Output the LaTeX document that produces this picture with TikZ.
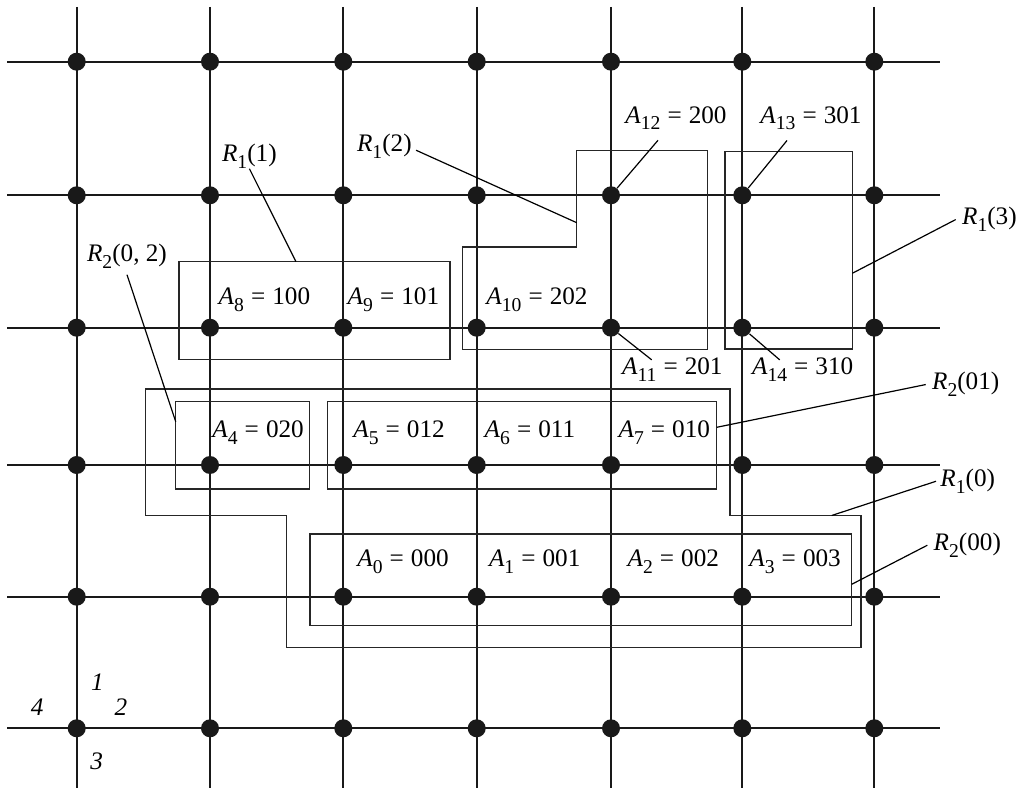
\documentclass[tikz,border=0pt]{standalone}
\usepackage{fontspec}
\setmainfont{Liberation Serif}

\newcommand{\lowidx}[1]{\raisebox{-3.3pt}{\fontsize{9.8}{10}\selectfont #1}}
\newcommand{\aval}[2]{\textit{A}\lowidx{#1}\kern0.28em=\kern0.28em#2}
\newcommand{\rset}[2]{\textit{R}\lowidx{#1}(#2)}

\tikzset{
  gridline/.style={line width=1.1pt, black!90},
  knot/.style={circle, fill=black!90, inner sep=0pt, minimum size=9pt},
  region/.style={line width=0.6pt, black!85},
  leader/.style={line width=0.6pt},
  lbl/.style={anchor=base west, inner sep=0pt, font=\fontsize{12.6}{15}\selectfont},
  num/.style={inner sep=0pt, font=\fontsize{12.6}{15}\selectfont\itshape},
}

\begin{document}
\begin{tikzpicture}[x=0.5pt, y=-0.5pt]
        \useasboundingbox (0,0) rectangle (1021,790);
        \def\cols{76.7,210,343.3,476.7,611,742.3,874.3}
        \def\rows{61.7,195.3,327.7,465,596.7,728.3}

        % Grid
        \foreach \x in \cols
          \draw[gridline] (\x,7) -- (\x,788);
        \foreach \y in \rows
          \draw[gridline] (7,\y) -- (940,\y);
        \foreach \x [count=\i] in \cols {
          \foreach \y [count=\j] in \rows
            \node[knot] (k\i\j) at (\x,\y) {};
        }

        % Regions
        \draw[region] (179,261.7) rectangle (450,359.3);
        \draw[region] (576.7,150.7) -- (707.7,150.7) -- (707.7,349.3) -- (462.7,349.3)
          -- (462.7,247) -- (576.7,247) -- cycle;
        \draw[region] (725,151.3) rectangle (852.3,349);
        \draw[region] (175.7,401.7) rectangle (309.3,489);
        \draw[region] (327.3,401.7) rectangle (716.7,489);
        \draw[region] (145.7,389) -- (730,389) -- (730,515.5) -- (861,515.5) -- (861,647.7)
          -- (286.7,647.7) -- (286.7,515.5) -- (145.7,515.5) -- cycle;
        \draw[region] (310,534) rectangle (851.7,625.7);

        \coordinate (e11) at (296,261.7);
        \coordinate (e12) at (576.7,222.7);
        \coordinate (e13) at (852.3,273.3);
        \coordinate (e02) at (175.7,421.7);
        \coordinate (e01) at (716.7,427.3);
        \coordinate (e10) at (831.7,515.5);
        \coordinate (e00) at (851.7,584.3);

        % Vertex labels
        \node[lbl] (a0) at (356.9,566.4) {\aval{0}{000}};
        \node[lbl] (a1) at (488.6,566.4) {\aval{1}{001}};
        \node[lbl] (a2) at (627.2,566.4) {\aval{2}{002}};
        \node[lbl] (a3) at (749,566.4) {\aval{3}{003}};
        \node[lbl] (a4) at (212,437.5) {\aval{4}{020}};
        \node[lbl] (a5) at (352.9,437.5) {\aval{5}{012}};
        \node[lbl] (a6) at (484.3,437.5) {\aval{6}{011}};
        \node[lbl] (a7) at (618.2,437.5) {\aval{7}{010}};
        \node[lbl] (a8) at (218.3,304.5) {\aval{8}{100}};
        \node[lbl] (a9) at (347.3,304.5) {\aval{9}{101}};
        \node[lbl] (a10) at (486,304.5) {\aval{10}{202}};
        \node[lbl] (a11) at (621.7,375) {\aval{11}{201}};
        \node[lbl] (a12) at (625,123.3) {\aval{12}{200}};
        \node[lbl] (a13) at (760,123.3) {\aval{13}{301}};
        \node[lbl] (a14) at (751.7,375) {\aval{14}{310}};

        \draw[leader] (a12.south west) ++(33,10) -- (k52);
        \draw[leader] (a13.south west) ++(27,10) -- (k62);
        \draw[leader] (a11.north west) ++(30,2) -- (k53);
        \draw[leader] (a14.north west) ++(28,2) -- (k63);

        % Region labels
        \node[lbl] (r11) at (221.7,161.7) {\rset{1}{1}};
        \node[lbl] (r02) at (86.7,261.7) {\rset{2}{0, 2}};
        \node[lbl] (r12) at (356.7,151.7) {\rset{1}{2}};
        \node[lbl] (r13) at (961.7,225) {\rset{1}{3}};
        \node[lbl] (r01) at (931.7,390) {\rset{2}{01}};
        \node[lbl] (r10) at (940,486.7) {\rset{1}{0}};
        \node[lbl] (r00) at (933.3,550.7) {\rset{2}{00}};

        \draw[leader] (r11.south) -- (e11);
        \draw[leader] ([yshift=-3pt]r02.south) -- (e02);
        \draw[leader] ([xshift=2pt,yshift=-2pt]r12.east) -- (e12);
        \draw[leader] ([xshift=-3pt]r13.west) -- (e13);
        \draw[leader] ([xshift=-3pt]r01.west) -- (e01);
        \draw[leader] ([xshift=-2pt]r10.west) -- (e10);
        \draw[leader] ([xshift=-3pt]r00.west) -- (e00);

        % Directions
        \node[num] (n1) at (97.5,681.7) {1};
        \node[num] (n2) at (121,707.3) {2};
        \node[num] (n3) at (96.7,761.7) {3};
        \node[num] (n4) at (37.3,707.3) {4};
\end{tikzpicture}
\end{document}
